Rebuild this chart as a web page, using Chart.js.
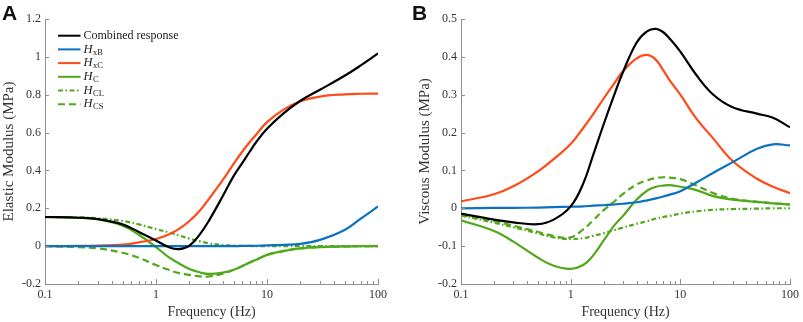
<!DOCTYPE html>
<html>
<head>
<meta charset="utf-8">
<script src="https://cdn.jsdelivr.net/npm/chart.js@4.4.1/dist/chart.umd.min.js"></script>
<style>
  body { margin: 0; background: #fff; width: 803px; height: 322px; position: relative; overflow: hidden; }
  .panel { position: absolute; top: 0; }
  .tag { position: absolute; top: 1px; font: bold 21px "Liberation Sans", Arial, sans-serif; color: #111; }
</style>
</head>
<body>
<div class="panel" style="left:0"><canvas id="chartA" width="400" height="322"></canvas></div>
<div class="panel" style="left:416px"><canvas id="chartB" width="387" height="322"></canvas></div>
<div class="tag" style="left:2px">A</div>
<div class="tag" style="left:412px">B</div>
<script>
const freq = [0.1, 0.2, 0.3, 0.5, 0.7, 1, 1.3, 1.6, 2, 2.5, 3, 4, 5, 6, 7, 8, 10, 14, 20, 30, 50, 70, 100];

// panel A - elastic modulus (MPa)
const elasticCombined = [0.154, 0.150, 0.143, 0.115, 0.075, 0.03, -0.005, -0.016, 0.003, 0.065, 0.135, 0.265, 0.37, 0.44, 0.50, 0.55, 0.62, 0.70, 0.768, 0.826, 0.90, 0.955, 1.018];
const elasticHxB = [0, 0, 0, 0, 0, 0, 0, 0, 0, 0, 0, 0, 0, 0.001, 0.001, 0.002, 0.004, 0.007, 0.012, 0.033, 0.085, 0.145, 0.21];
const elasticHxC = [0, 0.001, 0.003, 0.008, 0.02, 0.038, 0.062, 0.09, 0.133, 0.19, 0.25, 0.35, 0.435, 0.50, 0.55, 0.59, 0.655, 0.72, 0.765, 0.79, 0.802, 0.805, 0.806];
const elasticHC = [0.154, 0.150, 0.142, 0.108, 0.06, -0.005, -0.058, -0.09, -0.121, -0.139, -0.147, -0.14, -0.125, -0.105, -0.086, -0.072, -0.046, -0.026, -0.012, -0.005, -0.002, 0, 0];
const elasticHCL = [0.154, 0.152, 0.147, 0.133, 0.115, 0.09, 0.073, 0.057, 0.04, 0.025, 0.015, 0.006, 0.003, 0.001, 0.001, 0, 0, 0, 0, 0, 0, 0, 0];
const elasticHCS = [0, -0.005, -0.012, -0.035, -0.062, -0.1, -0.125, -0.142, -0.152, -0.16, -0.16, -0.145, -0.125, -0.105, -0.086, -0.072, -0.046, -0.026, -0.012, -0.005, -0.002, 0, 0];

// panel B - viscous modulus (MPa)
const viscousCombined = [-0.014, -0.03, -0.037, -0.042, -0.03, 0.005, 0.065, 0.14, 0.222, 0.30, 0.36, 0.438, 0.468, 0.474, 0.465, 0.448, 0.414, 0.352, 0.30, 0.267, 0.25, 0.239, 0.214];
const viscousHxB = [0, 0.001, 0.001, 0.002, 0.003, 0.004, 0.005, 0.007, 0.008, 0.010, 0.012, 0.016, 0.021, 0.026, 0.031, 0.036, 0.045, 0.068, 0.094, 0.122, 0.157, 0.169, 0.166];
const viscousHxC = [0.018, 0.037, 0.058, 0.097, 0.13, 0.17, 0.212, 0.248, 0.29, 0.33, 0.362, 0.396, 0.405, 0.392, 0.364, 0.338, 0.30, 0.237, 0.184, 0.125, 0.078, 0.057, 0.04];
const viscousHC = [-0.032, -0.06, -0.088, -0.13, -0.152, -0.16, -0.15, -0.125, -0.085, -0.045, -0.02, 0.023, 0.047, 0.057, 0.06, 0.061, 0.057, 0.048, 0.032, 0.023, 0.017, 0.013, 0.01];
const viscousHCL = [-0.019, -0.038, -0.05, -0.066, -0.077, -0.081, -0.079, -0.073, -0.066, -0.058, -0.051, -0.041, -0.034, -0.027, -0.023, -0.02, -0.014, -0.008, -0.004, -0.002, -0.001, 0, 0];
const viscousHCS = [-0.017, -0.034, -0.046, -0.062, -0.073, -0.077, -0.056, -0.032, -0.005, 0.018, 0.038, 0.063, 0.074, 0.08, 0.082, 0.081, 0.077, 0.06, 0.04, 0.025, 0.017, 0.013, 0.01];

// axis ticks
const freqTicks = [0.1, 0.2, 0.3, 0.4, 0.5, 0.6, 0.7, 0.8, 0.9, 1, 2, 3, 4, 5, 6, 7, 8, 9, 10, 20, 30, 40, 50, 60, 70, 80, 90, 100];
const freqLabels = [0.1, 1, 10, 100];
const elasticTicks = [-0.2, 0, 0.2, 0.4, 0.6, 0.8, 1, 1.2];
const viscousTicks = [-0.2, -0.1, 0, 0.1, 0.2, 0.3, 0.4, 0.5];

// legend text: main part + subscript
const seriesNames = ['Combined response', 'H', 'H', 'H', 'H', 'H'];
const seriesSubs = ['', 'xB', 'xC', 'C', 'CL', 'CS'];

const seriesColors = ['#000000', '#0a72c0', '#ff4b17', '#52a81c', '#52a81c', '#52a81c'];
const seriesDash = [[], [], [], [], [5, 2.5, 1.5, 2.5], [7, 4]];

const serif = '"Liberation Serif", "Times New Roman", serif';
const axisGrey = '#8f8f8f';

function makeDatasets(seriesList) {
  return seriesList.map((vals, i) => ({
    label: seriesNames[i] + seriesSubs[i],
    data: freq.map((f, k) => ({x: f, y: vals[k]})),
    borderColor: seriesColors[i],
    borderDash: seriesDash[i],
    borderWidth: 2.2,
    pointRadius: 0,
    fill: false,
    tension: 0.4,
  }));
}

// MATLAB-like ticks pointing into the plot
const innerTicks = {
  id: 'innerTicks',
  afterDraw(chart) {
    const {ctx, chartArea: a, scales: {x, y}} = chart;
    ctx.save();
    ctx.strokeStyle = axisGrey;
    ctx.lineWidth = 1;
    ctx.beginPath();
    x.ticks.forEach(t => {
      const px = Math.round(x.getPixelForValue(t.value)) + 0.5;
      const len = freqLabels.includes(t.value) ? 5 : 3;
      ctx.moveTo(px, a.bottom);
      ctx.lineTo(px, a.bottom - len);
    });
    y.ticks.forEach(t => {
      const py = Math.round(y.getPixelForValue(t.value)) + 0.5;
      ctx.moveTo(a.left, py);
      ctx.lineTo(a.left + 4, py);
    });
    ctx.stroke();
    ctx.restore();
  }
};

const seriesLegend = {
  id: 'seriesLegend',
  afterDraw(chart, args, opts) {
    if (!opts.show) return;
    const ctx = chart.ctx;
    ctx.save();
    chart.data.datasets.forEach((ds, i) => {
      const y = opts.top + i * opts.rowGap;
      ctx.strokeStyle = ds.borderColor;
      ctx.lineWidth = 2;
      ctx.setLineDash(ds.borderDash || []);
      ctx.beginPath();
      ctx.moveTo(opts.left, y);
      ctx.lineTo(opts.left + opts.lineLen, y);
      ctx.stroke();
      ctx.setLineDash([]);

      ctx.fillStyle = '#1a1a1a';
      ctx.textBaseline = 'middle';
      ctx.textAlign = 'left';
      let tx = opts.left + opts.lineLen + 3;
      if (seriesSubs[i]) {
        ctx.font = 'italic 12.5px ' + serif;
        ctx.fillText(seriesNames[i], tx, y);
        tx += ctx.measureText(seriesNames[i]).width + 0.5;
        ctx.font = '8.5px ' + serif;
        ctx.fillText(seriesSubs[i], tx, y + 3);
      } else {
        ctx.font = '12px ' + serif;
        ctx.fillText(seriesNames[i], tx, y);
      }
    });
    ctx.restore();
  }
};

function draw(canvas, seriesList, yTicks, yTitle, padRight, showLegend) {
  new Chart(canvas, {
    type: 'line',
    data: {datasets: makeDatasets(seriesList)},
    plugins: [innerTicks, seriesLegend],
    options: {
      responsive: false,
      animation: false,
      events: [],
      layout: {padding: {top: 19, right: padRight, left: 0, bottom: 0}},
      plugins: {
        legend: {display: false},
        tooltip: {enabled: false},
        seriesLegend: {show: showLegend, left: 58, lineLen: 22.5, top: 35.7, rowGap: 13.7},
      },
      scales: {
        x: {
          type: 'logarithmic',
          min: 0.1,
          max: 100,
          afterBuildTicks: s => { s.ticks = freqTicks.map(v => ({value: v})); },
          afterFit: s => { s.height = 38; },
          grid: {display: false, drawTicks: false},
          border: {display: true, color: axisGrey, width: 1},
          ticks: {
            autoSkip: false,
            maxRotation: 0,
            padding: 4,
            color: '#333',
            font: {family: serif, size: 12},
            callback: v => freqLabels.includes(v) ? String(v) : '',
          },
          title: {display: true, text: 'Frequency (Hz)', color: '#333', font: {family: serif, size: 14}, padding: {top: 0, bottom: 1}},
        },
        y: {
          min: yTicks[0],
          max: yTicks[yTicks.length - 1],
          afterBuildTicks: s => { s.ticks = yTicks.map(v => ({value: v})); },
          afterFit: s => { s.width = 45; },
          grid: {display: false, drawTicks: false},
          border: {display: true, color: axisGrey, width: 1},
          ticks: {
            padding: 4,
            color: '#333',
            font: {family: serif, size: 12},
            callback: v => String(Number(v.toFixed(2))),
          },
          title: {display: true, text: yTitle, color: '#333', font: {family: serif, size: 15}, padding: {top: 0, bottom: 0}},
        },
      },
    },
  });
}

draw(document.getElementById('chartA'),
  [elasticCombined, elasticHxB, elasticHxC, elasticHC, elasticHCL, elasticHCS],
  elasticTicks, 'Elastic Modulus (MPa)', 22, true);
draw(document.getElementById('chartB'),
  [viscousCombined, viscousHxB, viscousHxC, viscousHC, viscousHCL, viscousHCS],
  viscousTicks, 'Viscous Modulus (MPa)', 10, false);
</script>
</body>
</html>
